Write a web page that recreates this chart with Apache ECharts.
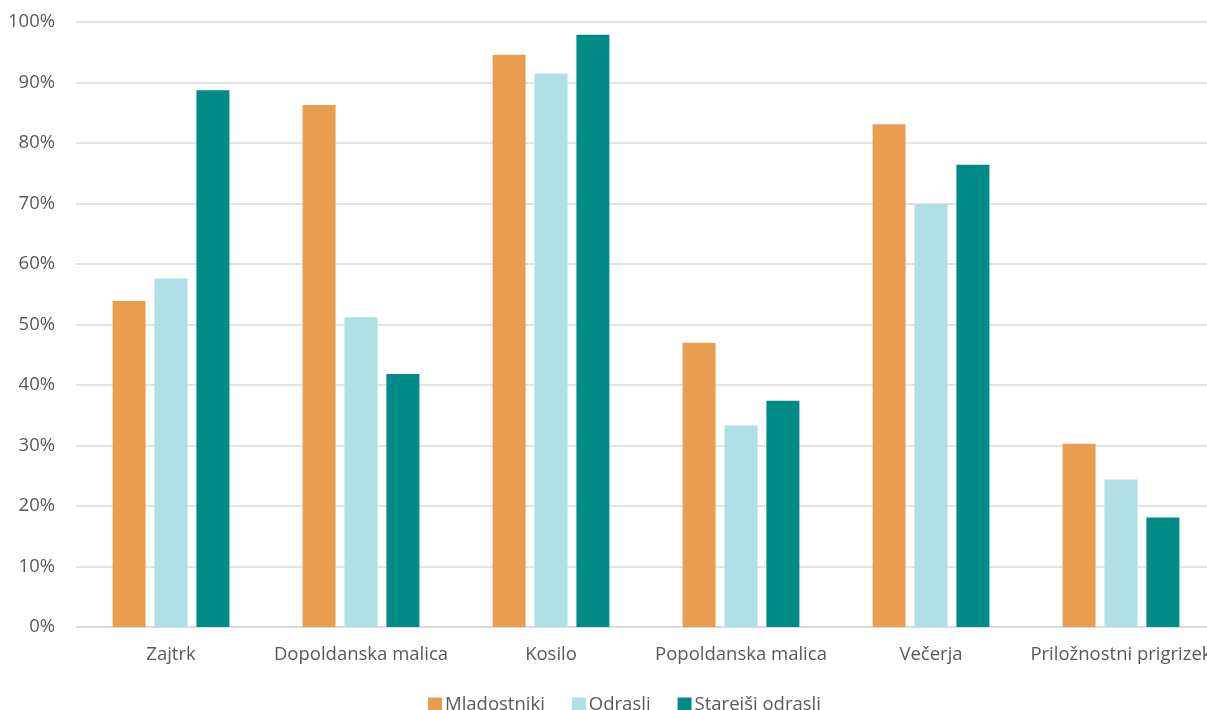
<!DOCTYPE html>
<html><head><meta charset="utf-8">
<script src="https://cdn.jsdelivr.net/npm/echarts@6/dist/echarts.min.js"></script>
<style>html,body{margin:0;padding:0;background:#fff;overflow:hidden}#c{width:1216px;height:710px}</style>
</head><body><div id="c"></div>
<script>
const categories = ['Zajtrk','Dopoldanska malica','Kosilo','Popoldanska malica','Večerja','Priložnostni prigrizek'];
const seriesNames = ['Mladostniki','Odrasli','Starejši odrasli'];
const mladostniki = [53.9, 86.3, 94.6, 47.0, 83.1, 30.3];
const odrasli = [57.6, 51.2, 91.5, 33.3, 69.9, 24.4];
const starejsi = [88.7, 41.8, 97.9, 37.4, 76.4, 18.1];
const yTicks = [0,10,20,30,40,50,60,70,80,90,100];
const colors = ['#EA9C50','#B0DFE5','#008B87'];
const font = '"Open Sans", sans-serif';
const chart = echarts.init(document.getElementById('c'));
const mk = (name, data, i) => ({
  name, type:'bar', data, barWidth:33, barGap:'27%',
  itemStyle:{color:colors[i]}
});
chart.setOption({
  animation:false,
  grid:{left:76, top:22, width:1140, height:605, containLabel:false},
  legend:{top:695, left:428, padding:0, itemWidth:14, itemHeight:14, itemGap:27,
    icon:'rect', textStyle:{color:'#595959', fontSize:18.5, fontFamily:font, padding:[0,0,0,-2]},
    data:seriesNames},
  xAxis:{type:'category', data:categories,
    axisLine:{lineStyle:{color:'#D9D9D9', width:1.5}}, axisTick:{show:false},
    axisLabel:{color:'#595959', fontSize:18.5, fontFamily:font, margin:18, interval:0}},
  yAxis:{type:'value', min:yTicks[0], max:yTicks[yTicks.length-1], interval:10,
    axisLine:{show:false}, axisTick:{show:false},
    splitLine:{lineStyle:{color:'#D9D9D9', width:1.5}},
    axisLabel:{color:'#595959', fontSize:18.5, fontFamily:font, margin:21, formatter:'{value}%'}},
  series:[mk(seriesNames[0], mladostniki, 0), mk(seriesNames[1], odrasli, 1), mk(seriesNames[2], starejsi, 2)]
});
</script></body></html>
